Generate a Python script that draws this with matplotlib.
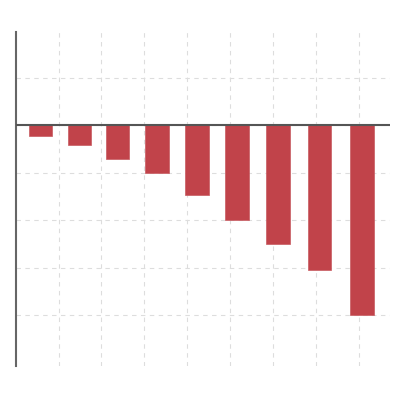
import numpy as np
import matplotlib
matplotlib.use('Agg')
import matplotlib.pyplot as plt

# bar positions (x units) and values
positions = [0.58, 1.49, 2.37, 3.30, 4.23, 5.16, 6.11, 7.08, 8.07]
values = [-0.22, -0.42, -0.71, -1.0, -1.47, -1.99, -2.5, -3.06, -4.0]
x_grid = [1, 2, 3, 4, 5, 6, 7, 8]
y_grid = [-4, -3, -2, -1, 0, 1]

fig = plt.figure(figsize=(4, 4), dpi=100)
ax = fig.add_axes([0.039, 0.085, 0.936, 0.834])

ax.bar(positions, values, width=0.55, color='#c1434a', edgecolor='#c85a60', linewidth=0.5, zorder=3)
ax.axhline(0, color='#555555', linewidth=1.5, zorder=4)

ax.set_xlim(0, 8.72)
ax.set_ylim(-5.07, 1.95)
ax.set_xticks(x_grid)
ax.set_yticks(y_grid)
ax.tick_params(left=False, bottom=False, labelleft=False, labelbottom=False)
ax.grid(True, color='#dddddd', linestyle=(0, (4, 4)), linewidth=0.8, zorder=0)

for side in ['top', 'right', 'bottom']:
    ax.spines[side].set_visible(False)
ax.spines['left'].set_color('#666666')
ax.spines['left'].set_linewidth(1.5)

fig.savefig('out.png', dpi=100)
